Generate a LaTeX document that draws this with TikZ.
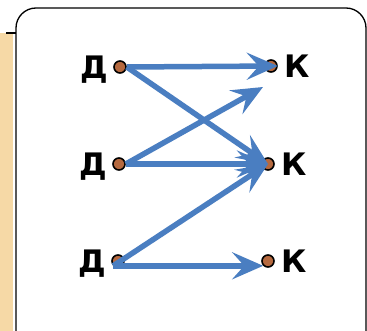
\documentclass[tikz,border=0pt]{standalone}
\usepackage{fontspec}
\setmainfont{DejaVu Sans}
\usetikzlibrary{arrows.meta, positioning}
\definecolor{arrowblue}{RGB}{74,126,193}
\definecolor{dotbrown}{RGB}{181,105,63}
\definecolor{stripbeige}{RGB}{246,217,166}

\begin{document}
\begin{tikzpicture}[
    x=1pt, y=-1pt,
    dot/.style={circle, draw=black, line width=1.6pt, fill=dotbrown, inner sep=0pt, minimum size=12pt},
    lbl/.style={font=\fontsize{31}{31}\selectfont\bfseries, inner sep=0pt, text depth=0pt},
    link/.style={draw=arrowblue, line width=5.5pt, -{Stealth[length=31pt, width=27pt, inset=12pt]}}
]
    \useasboundingbox (0,0) rectangle (367,331);
    \fill[white] (0,0) rectangle (367,331);
    \fill[stripbeige] (0,33) rectangle (13,331);
    \draw[line width=1.2pt] (6,33) -- (16,33);
    \draw[line width=1.3pt, rounded corners=20pt] (16,340) -- (16,8) -- (366,8) -- (366,340);

    \node[dot] (d1) at (120,67) {};
    \node[dot] (d2) at (119,164) {};
    \node[dot] (d3) at (118,261) {};
    \node[dot] (k1) at (271,66) {};
    \node[dot] (k2) at (268,164) {};
    \node[dot] (k3) at (268,261) {};

    \node[lbl, left=5pt of d1] (ld1) {Д};
    \node[lbl, left=5pt of d2] (ld2) {Д};
    \node[lbl, left=5pt of d3] (ld3) {Д};
    \node[lbl, right=6pt of k1] (lk1) {К};
    \node[lbl, right=6pt of k2] (lk2) {К};
    \node[lbl, right=6pt of k3] (lk3) {К};

    \coordinate (k1in) at (263,87);

    \draw[link] (d1.east) -- (k1.east);
    \draw[link] (d1.east) -- (k2.center);
    \draw[link] (d2.east) -- (k1in);
    \draw[link] (d2.east) -- (k2.center);
    \draw[link] (d3.south west) -- (k2.center);
    \draw[link] (d3.south west) -- (k3.south west);
\end{tikzpicture}
\end{document}
